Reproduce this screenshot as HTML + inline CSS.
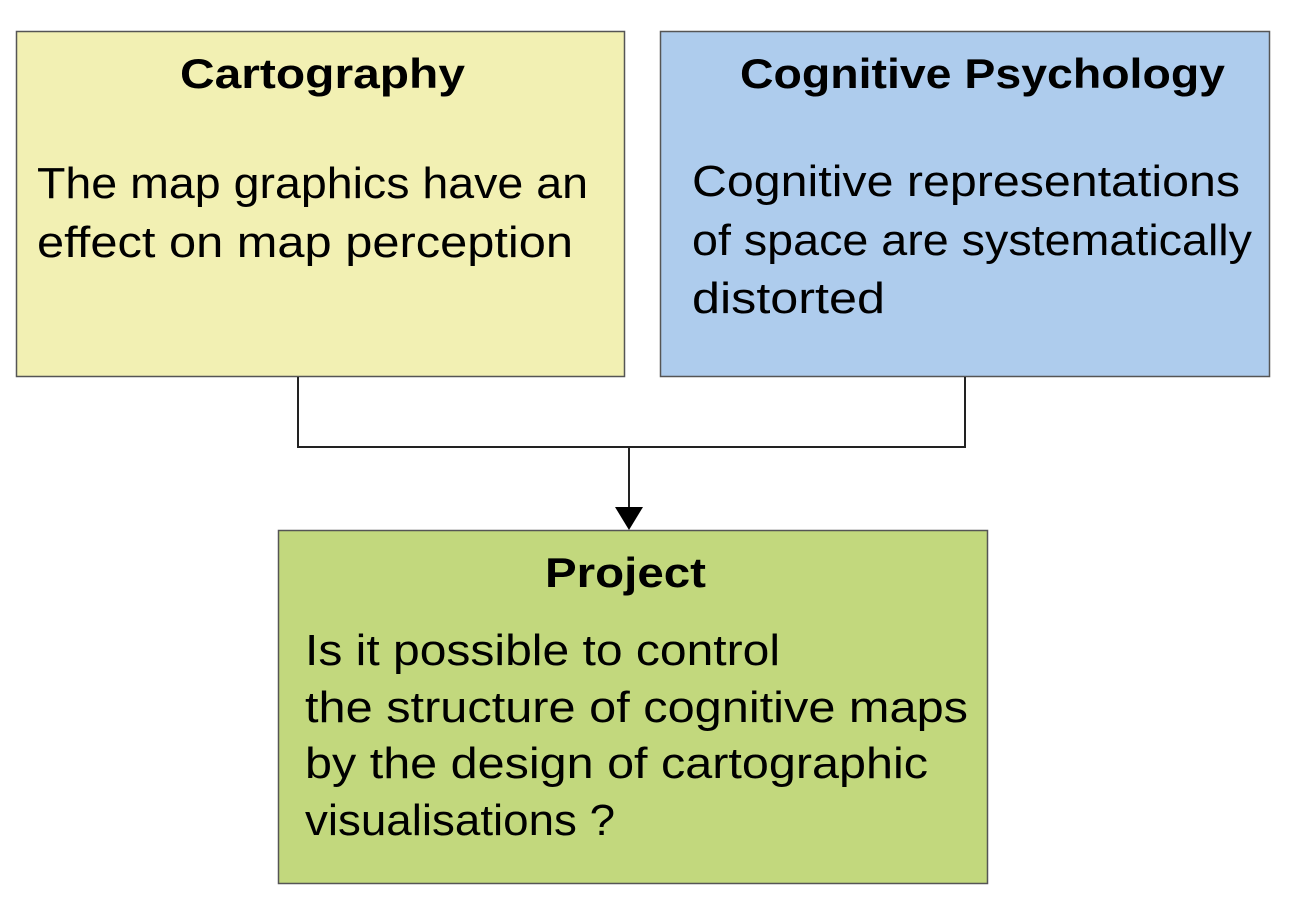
<!DOCTYPE html>
<html><head><meta charset="utf-8"><style>html,body{margin:0;padding:0;background:#fff}svg{display:block}</style></head>
<body>
<svg width="1290" height="915" viewBox="0 0 1290 915" xmlns="http://www.w3.org/2000/svg" font-family="Liberation Sans, DejaVu Sans, sans-serif">
<rect x="16.5" y="31.5" width="608" height="345" fill="#f2f0b3" stroke="#555" stroke-width="1.5"/>
<rect x="660.5" y="31.5" width="609" height="345" fill="#aecced" stroke="#555" stroke-width="1.5"/>
<rect x="278.5" y="530.5" width="709" height="353" fill="#c2d87d" stroke="#555" stroke-width="1.5"/>
<polyline points="298,377 298,447 965,447 965,377" fill="none" stroke="#222" stroke-width="2"/>
<line x1="629" y1="447" x2="629" y2="510" stroke="#222" stroke-width="2"/>
<polygon points="615,507 643,507 629,530" fill="#000"/>
<g font-weight="bold" font-size="42" fill="#000">
<text x="180" y="88" textLength="285" lengthAdjust="spacingAndGlyphs">Cartography</text>
<text x="740" y="88" textLength="485" lengthAdjust="spacingAndGlyphs">Cognitive Psychology</text>
<text x="545" y="587" textLength="161" lengthAdjust="spacingAndGlyphs">Project</text>
</g>
<g font-size="44" fill="#000">
<text x="37" y="198" textLength="551" lengthAdjust="spacingAndGlyphs">The map graphics have an</text>
<text x="37" y="257" textLength="536" lengthAdjust="spacingAndGlyphs">effect on map perception</text>
<text x="692" y="196" textLength="548" lengthAdjust="spacingAndGlyphs">Cognitive representations</text>
<text x="692" y="255" textLength="560" lengthAdjust="spacingAndGlyphs">of space are systematically</text>
<text x="692" y="313" textLength="193" lengthAdjust="spacingAndGlyphs">distorted</text>
<text x="305" y="665" textLength="475" lengthAdjust="spacingAndGlyphs">Is it possible to control</text>
<text x="305" y="722" textLength="663" lengthAdjust="spacingAndGlyphs">the structure of cognitive maps</text>
<text x="305" y="778" textLength="623" lengthAdjust="spacingAndGlyphs">by the design of cartographic</text>
<text x="305" y="835" textLength="310" lengthAdjust="spacingAndGlyphs">visualisations ?</text>
</g>
</svg>
</body></html>
